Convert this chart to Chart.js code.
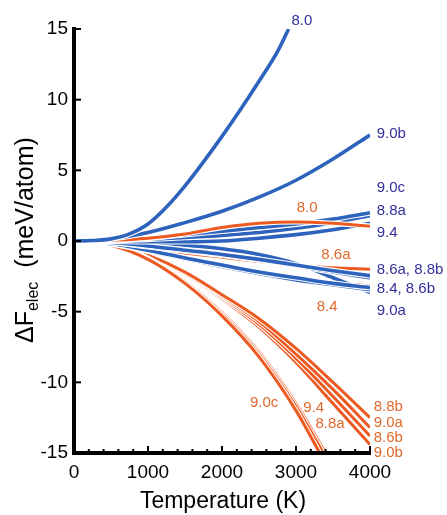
<!DOCTYPE html>
<html>
<head>
<meta charset="utf-8">
<script src="https://cdn.jsdelivr.net/npm/chart.js@4.4.1/dist/chart.umd.min.js"></script>
<style>
  html, body { margin: 0; padding: 0; background: #fff; }
  #wrap { width: 447px; height: 515px; }
</style>
</head>
<body>
<div id="wrap"><canvas id="chart"></canvas></div>
<script>
// temperatures (K)
const temps = [0, 500, 1000, 1500, 2000, 2500, 3000, 3500, 4000]
const temps80 = [0, 250, 500, 750, 1000, 1250, 1500, 1750, 2000, 2250, 2500, 2750, 2900]
const temps90c = [0, 500, 1000, 1500, 2000, 2500, 3000, 3320]
const temps94 = [0, 500, 1000, 1500, 2000, 2500, 3000, 3370]
const temps88a = [0, 500, 1000, 1500, 2000, 2500, 3000, 3400]

// blue curves (meV/atom)
const blue80 = [0, 0.03, 0.15, 0.5, 1.2, 2.4, 3.9, 5.6, 7.4, 9.3, 11.3, 13.4, 15]
const blue90b = [0, 0.15, 0.6, 1.3, 2.1, 3.1, 4.3, 5.8, 7.5]
const blue90c = [0, 0.05, 0.2, 0.45, 0.7, 0.95, 1.2, 1.55, 2.0]
const blue88a = [0, 0.04, 0.12, 0.25, 0.4, 0.6, 0.9, 1.3, 1.8]
const blue94 = [0, -0.02, -0.05, -0.05, 0.0, 0.2, 0.45, 0.8, 1.25]
const blue86a = [0, -0.1, -0.35, -0.65, -0.95, -1.3, -1.7, -2.1, -2.45]
const blue88b = [0, -0.1, -0.4, -0.7, -1.0, -1.35, -1.75, -2.2, -2.6]
const blue84 = [0, -0.2, -0.65, -1.2, -1.7, -2.2, -2.6, -3.0, -3.3]
const blue86b = [0, -0.2, -0.7, -1.25, -1.8, -2.3, -2.75, -3.1, -3.45]
const blue90a = [0, 0, -0.1, -0.3, -0.55, -0.95, -1.6, -2.6, -3.65]

// orange curves (meV/atom)
const orange80 = [0, 0.05, 0.2, 0.5, 0.95, 1.25, 1.35, 1.25, 1.05]
const orange86a = [0, -0.15, -0.5, -0.85, -1.15, -1.45, -1.7, -1.9, -2.0]
const orange84 = [0, -0.2, -0.7, -1.25, -1.75, -2.2, -2.6, -2.95, -3.2]
const orange88b = [0, -0.2, -1.0, -2.2, -3.8, -5.5, -7.6, -10.0, -12.5]
const orange90a = [0, -0.2, -1.0, -2.3, -3.9, -5.7, -8.0, -10.5, -13.2]
const orange86b = [0, -0.2, -1.05, -2.35, -4.0, -5.9, -8.3, -11.0, -13.8]
const orange90b = [0, -0.2, -1.1, -2.4, -4.1, -6.1, -8.6, -11.5, -14.4]
const orange90c = [0, -0.3, -1.3, -3.0, -5.3, -8.2, -12.0, -15]
const orange94 = [0, -0.28, -1.25, -2.9, -5.15, -8.0, -11.7, -15]
const orange88a = [0, -0.27, -1.2, -2.85, -5.05, -7.85, -11.5, -15]

const yTicks = [-15, -10, -5, 0, 5, 10, 15]
const xTicks = [0, 1000, 2000, 3000, 4000]

// curve labels: text, T, value
const blueLabels = [
    ['8.0', 3080, 15.6, 'center'],
    ['9.0b', 4090, 7.6, 'left'],
    ['9.0c', 4090, 3.75, 'left'],
    ['8.8a', 4090, 2.1, 'left'],
    ['9.4', 4090, 0.55, 'left'],
    ['8.6a, 8.8b', 4090, -2.05, 'left'],
    ['8.4, 8.6b', 4090, -3.4, 'left'],
    ['9.0a', 4090, -4.95, 'left']
]
const orangeLabels = [
    ['8.0', 3150, 2.35, 'center'],
    ['8.6a', 3540, -1.0, 'center'],
    ['8.4', 3420, -4.65, 'center'],
    ['9.0c', 2570, -11.45, 'center'],
    ['9.4', 3240, -11.8, 'center'],
    ['8.8a', 3460, -12.95, 'center'],
    ['8.8b', 4050, -11.7, 'left'],
    ['9.0a', 4050, -12.9, 'left'],
    ['8.6b', 4050, -13.95, 'left'],
    ['9.0b', 4050, -15.0, 'left']
]

const BLUE = '#2e63bd'
const ORANGE = '#ec5a22'
const BLUE_TXT = '#33309a'
const ORANGE_TXT = '#e0692c'
const FONT = '"Liberation Sans", Arial, sans-serif'

function pts(ts, vs) {
    let out = []
    for (let i = 0; i < vs.length; i++) {
        out.push({x: ts[i], y: vs[i]})
    }
    return out
}

// drawn in this sequence: orange first, blue on top
const series = [
    [temps, orange90b, ORANGE], [temps, orange86b, ORANGE], [temps, orange90a, ORANGE], [temps, orange88b, ORANGE],
    [temps88a, orange88a, ORANGE], [temps94, orange94, ORANGE], [temps90c, orange90c, ORANGE],
    [temps, orange84, ORANGE], [temps, orange86a, ORANGE],
    [temps, blue90a, BLUE], [temps, blue86b, BLUE], [temps, blue84, BLUE], [temps, blue88b, BLUE], [temps, blue86a, BLUE],
    [temps, blue94, BLUE], [temps, blue88a, BLUE], [temps, blue90c, BLUE], [temps, orange80, ORANGE],
    [temps, blue90b, BLUE], [temps80, blue80, BLUE]
]

let datasets = []
series.forEach(function (s, k) {
    const data = pts(s[0], s[1])
    const lw = s[2] === BLUE ? 3.6 : 3.0
    datasets.push({data: data, borderColor: '#ffffff', borderWidth: lw + 2.2, pointRadius: 0,
        cubicInterpolationMode: 'monotone', order: 1000 - 2 * k})
    datasets.push({data: data, borderColor: s[2], borderWidth: lw, pointRadius: 0,
        cubicInterpolationMode: 'monotone', order: 999 - 2 * k})
})

const decor = {
    id: 'decor',
    afterDraw(chart) {
        const ctx = chart.ctx
        const xs = chart.scales.x
        const ys = chart.scales.y
        const area = chart.chartArea
        ctx.save()
        // inward tick marks
        ctx.strokeStyle = '#000'
        ctx.lineWidth = 2
        for (let t = xs.min; t <= xs.max; t += 200) {
            const px = xs.getPixelForValue(t)
            const len = (t % 1000 === 0) ? 7 : 4
            ctx.beginPath()
            ctx.moveTo(px, area.bottom)
            ctx.lineTo(px, area.bottom - len)
            ctx.stroke()
        }
        for (let v of yTicks) {
            const py = ys.getPixelForValue(v)
            ctx.beginPath()
            ctx.moveTo(area.left, py)
            ctx.lineTo(area.left + 7, py)
            ctx.stroke()
        }
        // curve labels
        ctx.textBaseline = 'middle'
        ctx.font = '15px ' + FONT
        for (let l of blueLabels) {
            ctx.fillStyle = BLUE_TXT
            ctx.textAlign = l[3]
            ctx.fillText(l[0], xs.getPixelForValue(l[1]), ys.getPixelForValue(l[2]))
        }
        for (let l of orangeLabels) {
            ctx.fillStyle = ORANGE_TXT
            ctx.textAlign = l[3]
            ctx.fillText(l[0], xs.getPixelForValue(l[1]), ys.getPixelForValue(l[2]))
        }
        // axis titles
        ctx.fillStyle = '#000'
        ctx.textBaseline = 'alphabetic'
        ctx.textAlign = 'center'
        ctx.font = '23px ' + FONT
        ctx.fillText('Temperature (K)', 223, 508)

        ctx.translate(33, 343)
        ctx.rotate(-Math.PI / 2)
        ctx.textAlign = 'left'
        ctx.font = '25px ' + FONT
        ctx.fillText('ΔF', 0, 0)
        let w = ctx.measureText('ΔF').width
        ctx.font = '16px ' + FONT
        ctx.fillText('elec', w, 5)
        w += ctx.measureText('elec').width
        ctx.font = '25px ' + FONT
        ctx.fillText('  (meV/atom)', w, 0)
        ctx.restore()
    }
}

new Chart(document.getElementById('chart'), {
    type: 'line',
    data: {datasets: datasets},
    plugins: [decor],
    options: {
        responsive: true,
        maintainAspectRatio: false,
        animation: false,
        layout: {padding: {left: 0, top: 29, right: 77, bottom: 0}},
        plugins: {legend: {display: false}, tooltip: {enabled: false}},
        scales: {
            x: {
                type: 'linear', min: 0, max: 4000,
                afterFit: function (s) { s.height = 62 },
                afterBuildTicks: function (s) { s.ticks = xTicks.map(v => ({value: v})) },
                grid: {drawOnChartArea: false, drawTicks: false},
                border: {display: true, color: '#000', width: 4, z: 1},
                ticks: {color: '#000', padding: 8, maxRotation: 0, font: {family: FONT, size: 19},
                    callback: function (v) { return String(v) }}
            },
            y: {
                type: 'linear', min: -15, max: 15,
                afterFit: function (s) { s.width = 74 },
                afterBuildTicks: function (s) { s.ticks = yTicks.map(v => ({value: v})) },
                grid: {drawOnChartArea: false, drawTicks: false},
                border: {display: true, color: '#000', width: 4, z: 1},
                ticks: {color: '#000', padding: 6, font: {family: FONT, size: 19},
                    callback: function (v) { return String(v) }}
            }
        }
    }
})
</script>
</body>
</html>
